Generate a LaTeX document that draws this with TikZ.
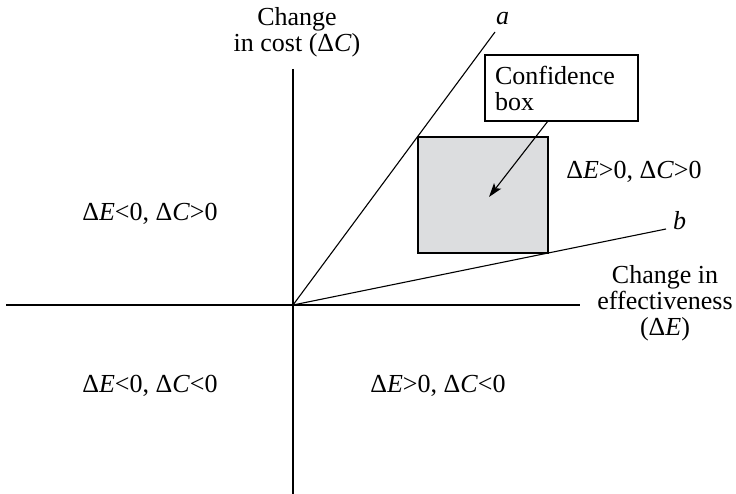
\documentclass[tikz,border=0pt]{standalone}
\usepackage{fontspec}
\setmainfont{Liberation Serif}
\usetikzlibrary{arrows.meta,calc}
\definecolor{boxgray}{HTML}{DCDDDF}
\begin{document}
\begin{tikzpicture}[x=1pt,y=-1pt,
  ax/.style={line width=1.1pt,black},
  lab/.style={font=\fontsize{26}{26}\selectfont, inner sep=0pt, outer sep=0pt},
  mlab/.style={lab, align=center, anchor=north},
  graybox/.style={draw, line width=1.2pt, fill=boxgray, inner sep=0pt, outer sep=0pt, anchor=north west},
  callout/.style={lab, draw, line width=1.1pt, fill=white, anchor=north west, align=left, text width=133pt, inner xsep=10pt, inner ysep=0pt, minimum height=66pt},
  pointer/.style={line width=1.1pt, -{Stealth[length=14pt,width=9pt,inset=3pt]}}
]
\useasboundingbox (0,0) rectangle (736,494);
\coordinate (O) at (293,305);
\coordinate (ytop) at (293,69);
\coordinate (ybot) at (293,494);
\coordinate (xl) at (6,305);
\coordinate (xr) at (580,305);
\coordinate (aend) at (495,32);
\coordinate (bend) at (666,229);
\coordinate (tip) at (489,197);

\draw[ax] (xl) -- (xr);
\draw[ax] (ytop) -- (ybot);

\node[graybox, minimum width=130pt, minimum height=116pt] (gbox) at (418,137) {};

\draw[ax] (O) -- (aend);
\draw[ax] (O) -- (bend);

\node[callout] (conf) at (485,55) {Confidence\\box};
\draw[pointer] ([xshift=63pt]conf.south west) -- (tip);

\node[lab, anchor=base west, font=\fontsize{26}{26}\selectfont\itshape] (la) at (496,25) {a};
\node[lab, anchor=base west, font=\fontsize{26}{26}\selectfont\itshape] (lb) at (673,230) {b};

\node[mlab] (ylab) at (297,7) {Change\\in cost (Δ\textit{C})};
\node[mlab] (xlab) at (665,265) {Change in\\effectiveness\\(Δ\textit{E})};

\node[lab, anchor=base] (q1) at (634,179) {Δ\textit{E}>0, Δ\textit{C}>0};
\node[lab, anchor=base] (q2) at (150,221) {Δ\textit{E}<0, Δ\textit{C}>0};
\node[lab, anchor=base] (q3) at (150,392) {Δ\textit{E}<0, Δ\textit{C}<0};
\node[lab, anchor=base] (q4) at (438,392) {Δ\textit{E}>0, Δ\textit{C}<0};
\end{tikzpicture}
\end{document}
